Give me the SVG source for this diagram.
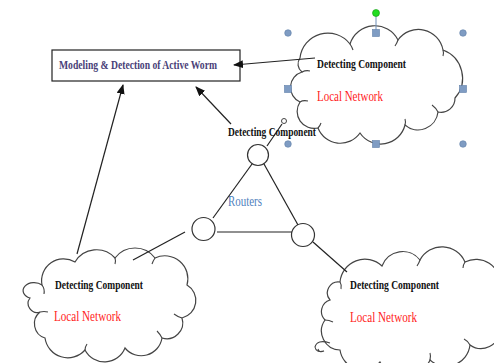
<svg xmlns="http://www.w3.org/2000/svg" width="494" height="363" viewBox="0 0 494 363">
<style>
.cloud{fill:#fff;stroke:#444;stroke-width:1.2}
.inner{fill:none;stroke:#444;stroke-width:1.1}
.ln{stroke:#222;stroke-width:1.2;fill:none}
.router{fill:#fff;stroke:#333;stroke-width:1.2}
.dc{font-family:"Liberation Serif",serif;font-weight:bold;font-size:13px;fill:#111}
.lnw{font-family:"Liberation Serif",serif;font-size:14px;fill:#ff1a1a}
.hd{fill:#7f9cc3;stroke:#5f7fa8;stroke-width:0.6}
</style>
<defs>
<marker id="ah" markerWidth="10" markerHeight="8" refX="9" refY="4" orient="auto" markerUnits="userSpaceOnUse">
<path d="M0,0 L10,4 L0,8 Z" fill="#111"/>
</marker>
</defs>
<rect width="494" height="363" fill="#fff"/>

<g id="main">
<rect x="52" y="50" width="188" height="31" fill="#fff" stroke="#222" stroke-width="1.2"/>
<text x="59" y="68.5" font-family="'Liberation Serif',serif" font-weight="bold" font-size="13" fill="#4a3f78" textLength="158" lengthAdjust="spacingAndGlyphs">Modeling &amp; Detection of Active Worm</text>
</g>

<g id="cloud-top">
<path class="cloud" d="M300,58 A28,28 0 0 1 350,44 A26,26 0 0 1 398,40 A25,25 0 0 1 443,50 A30,30 0 0 1 455,98 A14,14 0 0 1 438,112 A20,20 0 0 1 405,125 A25,25 0 0 1 360,133 A24,24 0 0 1 318,128 A17,17 0 0 1 300,102 A16,16 0 0 1 302,72 A10,10 0 0 1 300,58 Z"/>
<path class="inner" d="M302,72 q4,-2 8,-1 M300,102 q3,-2 8,-1 M350,44 q2,3 3,6 M398,40 q-1,3 -3,6 M443,50 q1,3 0,6 M438,112 q-2,-4 -6,-7 M405,125 q1,-3 0,-6 M318,128 q2,-2 3,-5"/>
<text class="dc" x="317" y="67.5" textLength="89" lengthAdjust="spacingAndGlyphs">Detecting Component</text>
<text class="lnw" x="317" y="100.5" textLength="66" lengthAdjust="spacingAndGlyphs">Local Network</text>
</g>

<g id="cloud-left">
<path class="cloud" d="M42,285 A22,22 0 0 1 75,262 A25,25 0 0 1 115,258 A25,25 0 0 1 155,258 A23,23 0 0 1 187,285 A18,18 0 0 1 182,318 A16,16 0 0 1 162,338 A21,21 0 0 1 125,348 A22,22 0 0 1 85,350 A23,23 0 0 1 45,338 A15,15 0 0 1 40,312 A9,9 0 0 1 30,298 A11,8 0 1 1 42,285 Z"/>
<path class="inner" d="M42,285 q3,4 2,9 M40,312 q4,-1 8,0 M115,258 q1,3 0,6 M155,258 q-2,3 -3,6 M182,318 q-4,-1 -8,-4 M162,338 q-2,-4 -5,-7 M85,350 q0,-3 2,-6"/>
<text class="dc" x="55" y="288.5" textLength="88" lengthAdjust="spacingAndGlyphs">Detecting Component</text>
<text class="lnw" x="54" y="320.5" textLength="67" lengthAdjust="spacingAndGlyphs">Local Network</text>
</g>

<g id="cloud-right">
<path class="cloud" d="M340,282 A25,25 0 0 1 382,266 A22,22 0 0 1 420,260 A25,25 0 0 1 465,262 A24,24 0 0 1 500,285 L500,330 A19,19 0 0 1 470,345 A24,24 0 0 1 430,360 A28,28 0 0 1 380,362 A23,23 0 0 1 340,350 A19,19 0 0 1 325,320 A12,12 0 0 1 330,300 A11,11 0 0 1 340,282 Z"/>
<path class="inner" d="M340,282 q2,3 1,7 M325,320 q4,0 8,2 M420,260 q-1,3 -3,6 M465,262 q-2,3 -2,6 M470,345 q-2,-4 -6,-6 M430,360 q1,-4 0,-7"/>
<path class="inner" d="M330,343 q-13,-4 -15,4 q1,6 9,4 q-5,2 -6,-2"/>
<text class="dc" x="350" y="288.5" textLength="89" lengthAdjust="spacingAndGlyphs">Detecting Component</text>
<text class="lnw" x="350" y="321.5" textLength="67" lengthAdjust="spacingAndGlyphs">Local Network</text>
</g>

<g id="routers">
<circle class="router" cx="258" cy="155" r="10.5"/>
<circle class="router" cx="203.5" cy="229" r="11.5"/>
<circle class="router" cx="303" cy="235" r="11.5"/>
<text x="228" y="205.5" font-family="'Liberation Serif',serif" font-size="14" fill="#4f81bd" textLength="34" lengthAdjust="spacingAndGlyphs">Routers</text>
</g>

<g id="connectors">
<line class="ln" x1="315" y1="58" x2="234" y2="65" marker-end="url(#ah)"/>
<line class="ln" x1="231" y1="124" x2="196" y2="87" marker-end="url(#ah)"/>
<line class="ln" x1="77" y1="254" x2="123" y2="85" marker-end="url(#ah)"/>
<line class="ln" x1="252" y1="164" x2="213" y2="218"/>
<line class="ln" x1="264" y1="164" x2="298" y2="225"/>
<line class="ln" x1="217" y1="232" x2="292" y2="232"/>
<line class="ln" x1="185" y1="232" x2="133" y2="260"/>
<line class="ln" x1="313" y1="242" x2="347" y2="272"/>
<line class="ln" x1="267" y1="146" x2="282" y2="124"/>
<circle cx="284" cy="121" r="2.5" fill="none" stroke="#444" stroke-width="1"/>
</g>

<text class="dc" x="228" y="135.5" textLength="88" lengthAdjust="spacingAndGlyphs">Detecting Component</text>

<g id="handles">
<line x1="376" y1="13" x2="376" y2="33" stroke="#6f8fb8" stroke-width="1"/>
<circle cx="376" cy="13" r="3.5" fill="#22dd22" stroke="#119911" stroke-width="0.6"/>
<circle class="hd" cx="288" cy="33" r="3.3"/>
<circle class="hd" cx="463" cy="33" r="3.3"/>
<circle class="hd" cx="288" cy="144" r="3.3"/>
<circle class="hd" cx="463" cy="144" r="3.3"/>
<rect class="hd" x="372.5" y="29.5" width="7" height="7"/>
<rect class="hd" x="284.5" y="85.5" width="7" height="7"/>
<rect class="hd" x="459.5" y="85.5" width="7" height="7"/>
<rect class="hd" x="372.5" y="140.5" width="7" height="7"/>
</g>
</svg>
